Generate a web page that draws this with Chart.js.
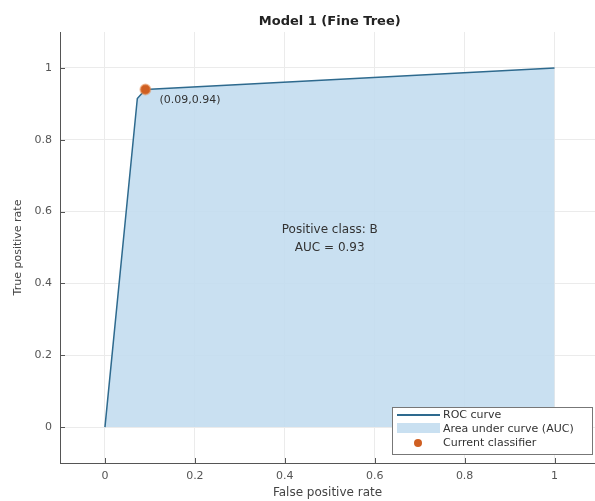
<!DOCTYPE html>
<html>
<head>
<meta charset="utf-8">
<script src="https://cdn.jsdelivr.net/npm/chart.js@4.4.0/dist/chart.umd.min.js"></script>
<style>
  html, body { margin: 0; padding: 0; background: #fff; overflow: hidden; }
  #wrap { width: 602px; height: 501px; position: relative; }
</style>
</head>
<body>
<div id="wrap"><canvas id="roc"></canvas></div>
<script>
// ROC curve points (false positive rate, true positive rate)
const rocFpr = [0, 0.072, 0.09, 1];
const rocTpr = [0, 0.915, 0.94, 1];
// operating point
const classifierFpr = [0.09];
const classifierTpr = [0.94];
const tickValues = [0, 0.2, 0.4, 0.6, 0.8, 1];
const pointLabel = '(0.09,0.94)';
const annotationLines = ['Positive class: B', 'AUC = 0.93'];
const legendLabels = ['ROC curve', 'Area under curve (AUC)', 'Current classifier'];

const lineColor = '#2e6a8e';
const areaColor = 'rgba(195, 221, 240, 0.9)';
const markerColor = '#cf5f22';
const font = '"DejaVu Sans", "Liberation Sans", sans-serif';

function toPoints(xs, ys) {
    return xs.map(function(x, i) { return { x: x, y: ys[i] }; });
}

// fixed tick positions, like MATLAB
function fixedTicks(scale) {
    scale.ticks = tickValues.map(function(v) { return { value: v }; });
}

// title, inward ticks, text annotations and the legend box
const extras = {
    id: 'extras',
    afterDraw: function(chart) {
        const ctx = chart.ctx;
        const xs = chart.scales.x, ys = chart.scales.y;
        const area = chart.chartArea;
        ctx.save();

        // inward tick marks
        ctx.strokeStyle = '#555';
        ctx.lineWidth = 1;
        tickValues.forEach(function(v) {
            const px = Math.round(xs.getPixelForValue(v)) + 0.5;
            ctx.beginPath();
            ctx.moveTo(px, area.bottom);
            ctx.lineTo(px, area.bottom - 5);
            ctx.stroke();
            const py = Math.round(ys.getPixelForValue(v)) + 0.5;
            ctx.beginPath();
            ctx.moveTo(area.left, py);
            ctx.lineTo(area.left + 5, py);
            ctx.stroke();
        });

        // title
        ctx.fillStyle = '#222';
        ctx.font = 'bold 13px ' + font;
        ctx.textAlign = 'center';
        ctx.textBaseline = 'middle';
        ctx.fillText('Model 1 (Fine Tree)', xs.getPixelForValue(0.5), 22);

        // point label
        ctx.font = '11px ' + font;
        ctx.fillStyle = '#333';
        ctx.textAlign = 'left';
        ctx.fillText(pointLabel, xs.getPixelForValue(classifierFpr[0]) + 14, ys.getPixelForValue(classifierTpr[0]) + 11);

        // class / AUC text
        ctx.textAlign = 'center';
        ctx.font = '12px ' + font;
        ctx.fillText(annotationLines[0], xs.getPixelForValue(0.5), ys.getPixelForValue(0.55));
        ctx.fillText(annotationLines[1], xs.getPixelForValue(0.5), ys.getPixelForValue(0.55) + 18);

        // legend
        const lx = 392, ly = 407, lw = 200, lh = 47;
        ctx.fillStyle = '#fff';
        ctx.fillRect(lx, ly, lw, lh);
        ctx.strokeStyle = '#777';
        ctx.strokeRect(lx + 0.5, ly + 0.5, lw, lh);

        ctx.strokeStyle = lineColor;
        ctx.lineWidth = 2;
        ctx.beginPath();
        ctx.moveTo(lx + 5, ly + 8);
        ctx.lineTo(lx + 48, ly + 8);
        ctx.stroke();

        ctx.fillStyle = areaColor;
        ctx.fillRect(lx + 5, ly + 16, 43, 10);

        ctx.fillStyle = markerColor;
        ctx.beginPath();
        ctx.arc(lx + 26, ly + 36, 4, 0, Math.PI * 2);
        ctx.fill();

        ctx.fillStyle = '#333';
        ctx.font = '11px ' + font;
        ctx.textAlign = 'left';
        legendLabels.forEach(function(t, i) {
            ctx.fillText(t, lx + 51, ly + 8 + i * 14);
        });

        ctx.restore();
    }
};

new Chart(document.getElementById('roc'), {
    type: 'scatter',
    data: {
        datasets: [
            {
                label: legendLabels[2],
                data: toPoints(classifierFpr, classifierTpr),
                backgroundColor: markerColor,
                borderColor: 'rgba(230, 140, 80, 0.5)',
                borderWidth: 2,
                pointRadius: 5,
                order: 0
            },
            {
                label: legendLabels[0],
                data: toPoints(rocFpr, rocTpr),
                showLine: true,
                borderColor: lineColor,
                borderWidth: 1.5,
                pointRadius: 0,
                fill: false,
                order: 1
            },
            {
                label: legendLabels[1],
                data: toPoints(rocFpr, rocTpr),
                showLine: true,
                borderWidth: 0,
                borderColor: 'rgba(0,0,0,0)',
                backgroundColor: areaColor,
                pointRadius: 0,
                fill: 'origin',
                order: 2
            }
        ]
    },
    options: {
        responsive: true,
        maintainAspectRatio: false,
        animation: false,
        layout: { padding: { top: 32, right: 0, left: 0, bottom: 0 } },
        plugins: {
            legend: { display: false },
            tooltip: { enabled: false }
        },
        scales: {
            x: {
                type: 'linear',
                min: -0.1,
                max: 1.09,
                afterBuildTicks: fixedTicks,
                afterFit: function(scale) {
                    scale.height = 38;
                    scale.paddingLeft = 0;
                    scale.paddingRight = 0;
                },
                grid: { color: '#ebebeb', tickLength: 0, drawTicks: false },
                border: { color: '#555' },
                ticks: {
                    padding: 7,
                    color: '#555',
                    font: { family: font, size: 11 },
                    callback: function(v) { return String(v); }
                },
                title: {
                    display: true,
                    text: 'False positive rate',
                    color: '#444',
                    font: { family: font, size: 12 },
                    padding: { top: 0, bottom: 1 }
                }
            },
            y: {
                type: 'linear',
                min: -0.1,
                max: 1.1,
                afterBuildTicks: fixedTicks,
                afterFit: function(scale) {
                    scale.width = 60;
                    scale.paddingTop = 0;
                    scale.paddingBottom = 0;
                },
                grid: { color: '#ebebeb', tickLength: 0, drawTicks: false },
                border: { color: '#555' },
                ticks: {
                    padding: 8,
                    color: '#555',
                    font: { family: font, size: 11 },
                    callback: function(v) { return String(v); }
                },
                title: {
                    display: true,
                    text: 'True positive rate',
                    color: '#444',
                    font: { family: font, size: 11 },
                    padding: { top: 12, bottom: 0 }
                }
            }
        }
    },
    plugins: [extras]
});
</script>
</body>
</html>
